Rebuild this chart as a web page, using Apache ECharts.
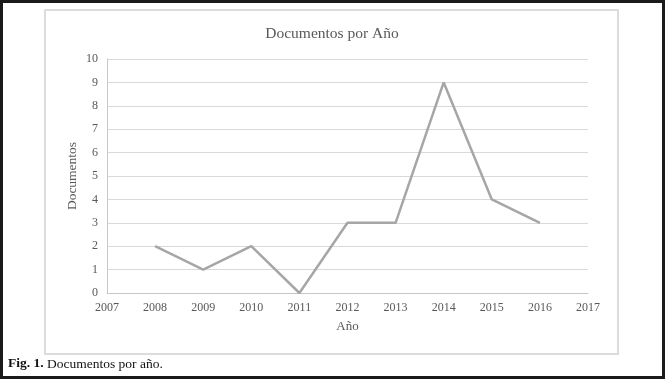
<!DOCTYPE html>
<html>
<head>
<meta charset="utf-8">
<script src="https://cdn.jsdelivr.net/npm/echarts@6/dist/echarts.min.js"></script>
<style>
  html, body { margin: 0; padding: 0; background: #fff; }
  #chart { width: 665px; height: 379px; }
</style>
</head>
<body>
<div id="chart"></div>
<script>
// datos
const years = [2008, 2009, 2010, 2011, 2012, 2013, 2014, 2015, 2016]
const docs = [2, 1, 2, 0, 3, 3, 9, 4, 3]

const serif = '"Liberation Serif", "DejaVu Serif", serif'
const textGray = '#595959'

const chart = echarts.init(document.getElementById('chart'))

const option = {
  animation: false,
  title: {
    text: 'Documentos por Año',
    left: 327,
    top: 21,
    textAlign: 'center',
    textStyle: {
      fontFamily: serif,
      fontSize: 15.5,
      fontWeight: 'normal',
      color: textGray
    }
  },
  grid: {
    left: 107,
    right: 77,
    top: 59,
    bottom: 86,
    containLabel: false
  },
  xAxis: {
    type: 'value',
    min: 2007,
    max: 2017,
    interval: 1,
    name: 'Año',
    nameLocation: 'middle',
    nameGap: 27,
    nameMoveOverlap: false,
    nameTextStyle: { fontFamily: serif, fontSize: 13, color: textGray },
    axisLine: { show: true, lineStyle: { color: '#c8c8c8', width: 1 } },
    axisTick: { show: false },
    splitLine: { show: false },
    axisLabel: {
      margin: 9,
      fontFamily: serif,
      fontSize: 12,
      color: textGray,
      formatter: v => String(v)
    }
  },
  yAxis: {
    type: 'value',
    min: 0,
    max: 10,
    interval: 1,
    name: 'Documentos',
    nameLocation: 'middle',
    nameGap: 28,
    nameMoveOverlap: false,
    nameTextStyle: { fontFamily: serif, fontSize: 13.5, color: textGray },
    axisLine: { show: true, lineStyle: { color: '#c8c8c8', width: 1 } },
    axisTick: { show: false },
    splitLine: { show: true, lineStyle: { color: '#d9d9d9', width: 1 } },
    axisLabel: {
      margin: 9,
      fontFamily: serif,
      fontSize: 12,
      color: textGray
    }
  },
  series: [
    {
      type: 'line',
      data: years.map((y, i) => [y, docs[i]]),
      showSymbol: false,
      symbol: 'none',
      lineStyle: { color: '#a6a6a6', width: 2.5 },
      itemStyle: { color: '#a6a6a6' }
    }
  ],
  graphic: [
    // marco exterior negro
    {
      type: 'rect',
      shape: { x: 1.5, y: 1.5, width: 662, height: 376 },
      style: { fill: null, stroke: '#1a1a1a', lineWidth: 3 },
      silent: true
    },
    // borde del área del gráfico
    {
      type: 'rect',
      shape: { x: 45, y: 10, width: 573, height: 344 },
      style: { fill: null, stroke: '#dcdcdc', lineWidth: 2 },
      silent: true
    },
    {
      type: 'text',
      left: 8,
      top: 357,
      style: {
        text: '{b|Fig. 1.} Documentos por año.',
        font: '13.5px ' + serif,
        fill: '#111',
        rich: {
          b: { fontFamily: serif, fontSize: 13.5, fontWeight: 'bold', fill: '#111' }
        }
      },
      silent: true
    }
  ]
}

chart.setOption(option)
</script>
</body>
</html>
